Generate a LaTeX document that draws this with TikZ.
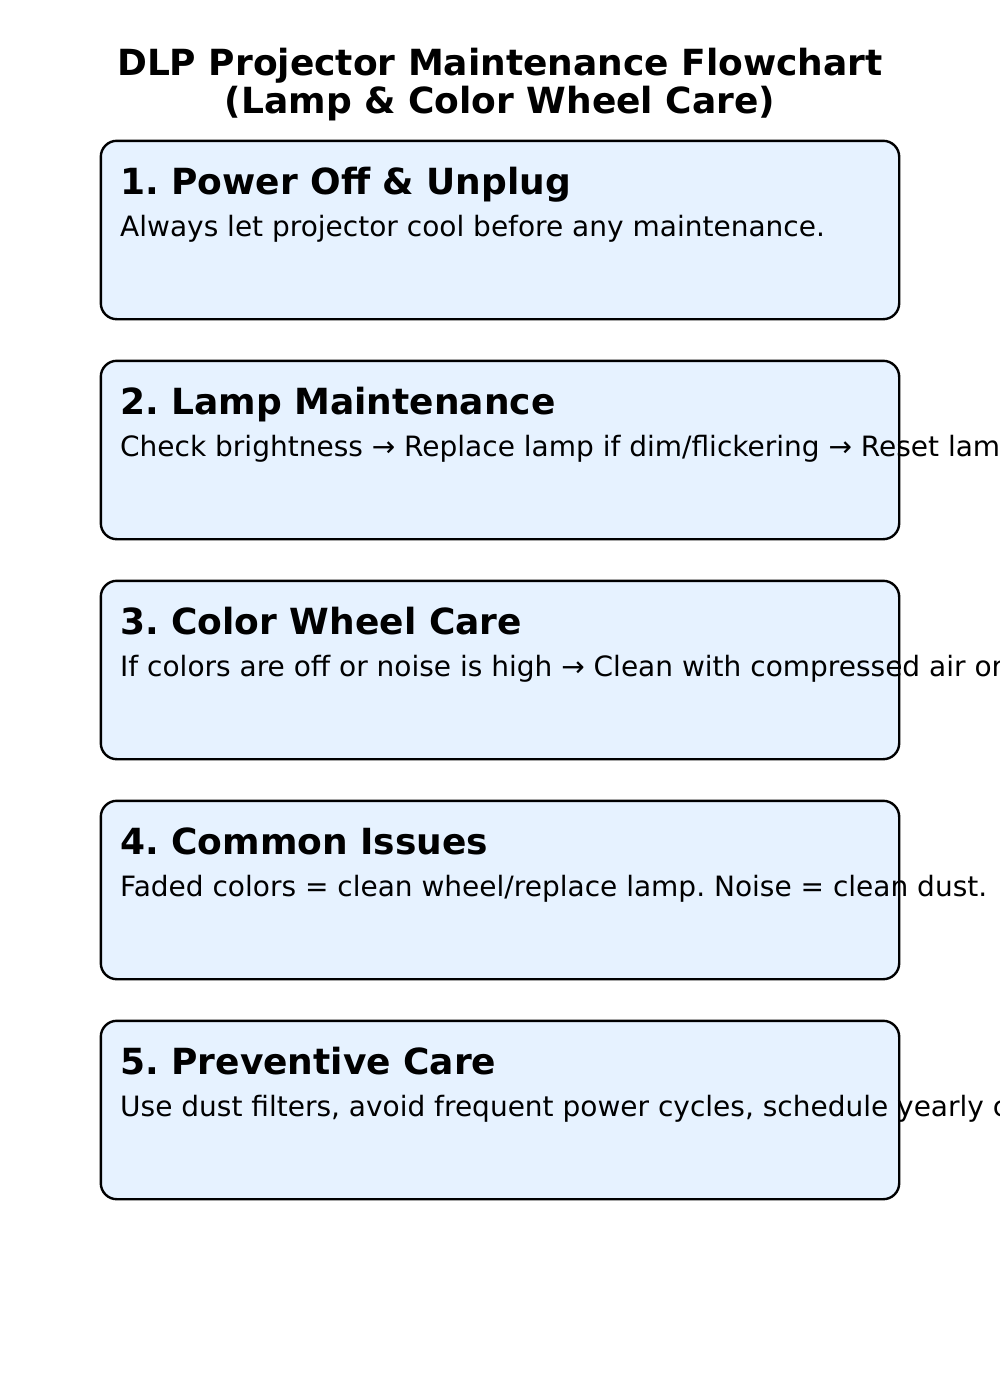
\documentclass[tikz,border=0pt]{standalone}
\usepackage{fontspec}
\setmainfont{DejaVu Sans}
\frenchspacing
\definecolor{boxfill}{HTML}{E6F2FF}
\tikzset{
  stepbox/.style={fill=boxfill, rounded corners=16pt, minimum width=798pt, minimum height=178pt, inner sep=0pt},
  stepborder/.style={draw=black, line width=2.4pt, rounded corners=16pt},
  headtext/.style={anchor=base west, inner sep=0pt, font=\fontsize{36}{42}\selectfont\bfseries},
  bodytext/.style={anchor=base west, inner sep=0pt, font=\fontsize{28}{33}\selectfont},
  titletext/.style={anchor=base, inner sep=0pt, font=\fontsize{36}{42}\selectfont\bfseries}
}
\begin{document}
\begin{tikzpicture}[x=1pt,y=-1pt]
\useasboundingbox (0,0) rectangle (1000,1400);
\clip (0,0) rectangle (1000,1400);
\fill[white] (0,0) rectangle (1000,1400);
\node[titletext] (t1) at (500,75) {DLP Projector Maintenance Flowchart};
\node[titletext] (t2) at (500,113) {(Lamp \& Color Wheel Care)};
\foreach \i/\h/\b in {
  1/{1. Power Off \& Unplug}/{Always let projector cool before any maintenance.},
  2/{2. Lamp Maintenance}/{Check brightness → Replace lamp if dim/flickering → Reset lamp timer.},
  3/{3. Color Wheel Care}/{If colors are off or noise is high → Clean with compressed air or replace wheel.},
  4/{4. Common Issues}/{Faded colors = clean wheel/replace lamp. Noise = clean dust.},
  5/{5. Preventive Care}/{Use dust filters, avoid frequent power cycles, schedule yearly checks.}}{
  \node[stepbox] (box\i) at (500,{230+220*(\i-1)}) {};
  \node[headtext] (head\i) at (120,{194+220*(\i-1)}) {\h};
  \node[bodytext] (body\i) at (120,{236+220*(\i-1)}) {\b};
  \draw[stepborder] (box\i.north west) rectangle (box\i.south east);
}
\end{tikzpicture}
\end{document}
